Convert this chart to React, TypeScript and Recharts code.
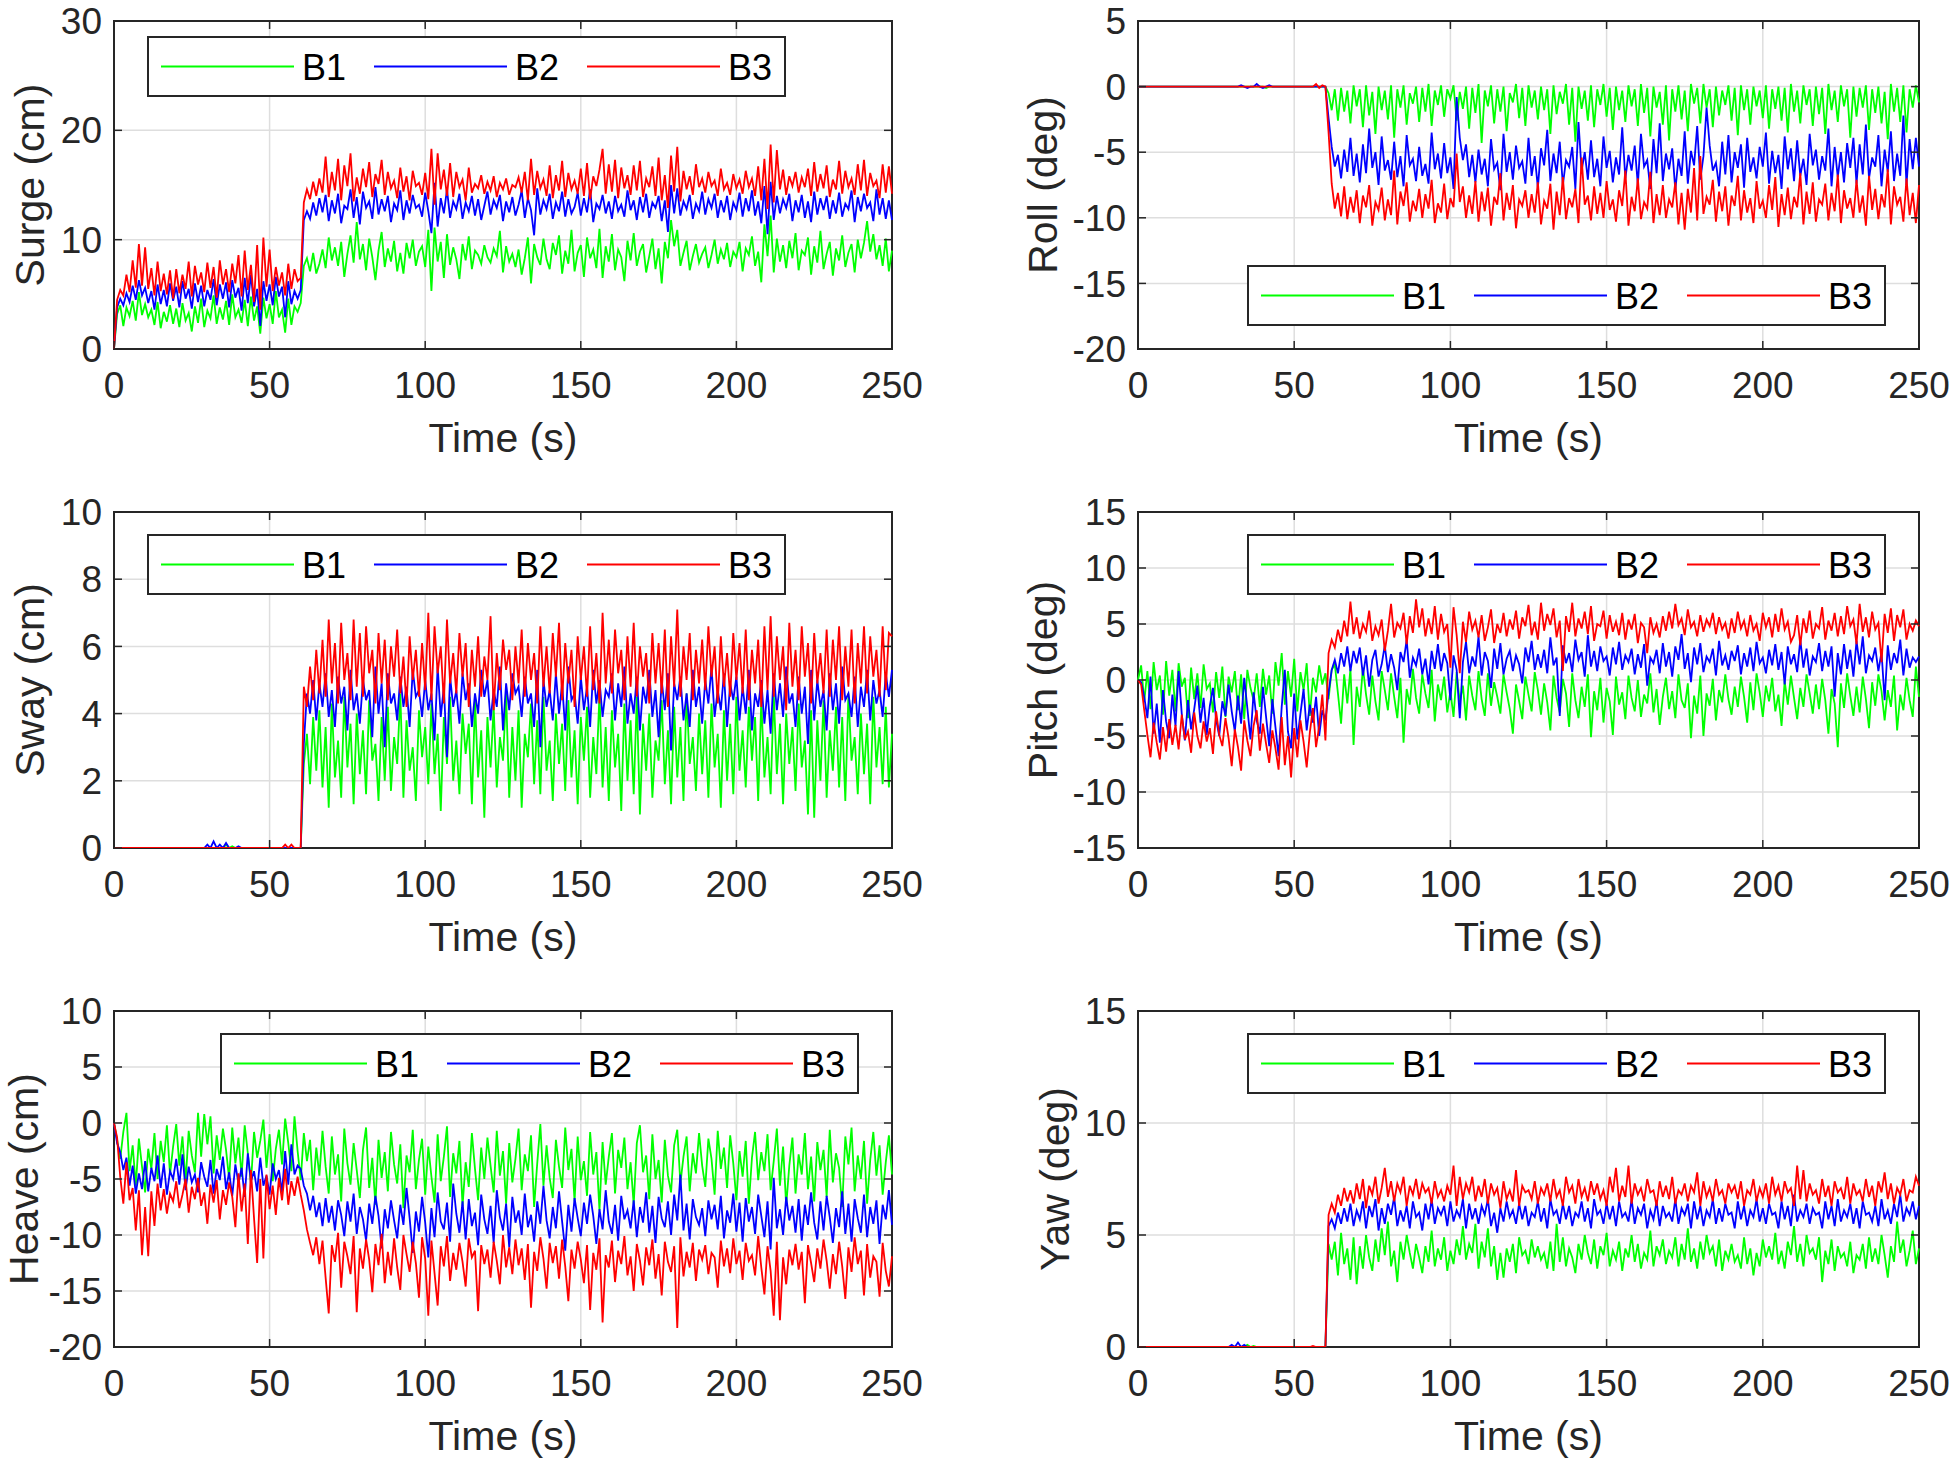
import React from 'react';
import { LineChart, Line, XAxis, YAxis, CartesianGrid, Legend, ReferenceArea } from 'recharts';

// time axis: one sample per second, 0..250 s
const time = Array.from({ length: 251 }, (_, i) => i);
const timeTicks = [0, 50, 100, 150, 200, 250];

const surgeTicks = [0, 10, 20, 30];
const rollTicks = [-20, -15, -10, -5, 0, 5];
const swayTicks = [0, 2, 4, 6, 8, 10];
const pitchTicks = [-15, -10, -5, 0, 5, 10, 15];
const heaveTicks = [-20, -15, -10, -5, 0, 5, 10];
const yawTicks = [0, 5, 10, 15];

const surgeB1 = [
  0, 3.2, 4.0, 2.1, 3.8, 3.0, 4.4, 2.6, 5.2, 3.1,
  4.1, 2.9, 3.6, 2.2, 4.3, 1.9, 3.4, 2.5, 4.0, 2.3,
  3.7, 2.0, 4.2, 2.6, 3.3, 1.6, 3.9, 2.4, 4.6, 2.0,
  3.5, 2.8, 4.9, 2.3, 3.8, 2.7, 4.4, 2.2, 5.0, 2.9,
  3.6, 2.4, 4.5, 2.1, 4.8, 2.6, 3.9, 1.4, 4.7, 2.8,
  4.1, 2.3, 5.3, 2.9, 3.6, 1.5, 4.6, 2.2, 3.9, 3.4,
  4.2, 7.6, 8.3, 7.1, 8.8, 6.9, 7.8, 9.1, 7.4, 10.2,
  8.1, 9.3, 7.6, 9.8, 6.6, 8.7, 10.4, 7.9, 11.6, 8.2,
  9.6, 7.2, 10.1, 8.4, 6.3, 9.0, 10.7, 7.5, 9.2, 8.0,
  9.9, 7.1, 8.8, 6.9, 9.7, 8.3, 10.0, 7.6, 8.9, 9.4,
  7.5, 10.9, 5.3, 11.1, 8.0, 9.8, 6.5, 10.5, 7.7, 9.3,
  8.2, 6.4, 9.6, 8.1, 10.3, 7.3, 9.0, 8.6, 7.8, 9.5,
  8.4, 7.9, 9.2, 8.5, 10.8, 7.0, 9.4, 8.0, 8.7, 7.5,
  9.1, 6.8, 8.3, 10.2, 6.0, 9.6, 8.4, 7.7, 10.1, 8.2,
  7.3, 9.7, 8.6, 10.4, 6.9, 9.0, 7.8, 10.9, 7.1, 8.8,
  9.5, 6.6, 10.2, 8.3, 9.1, 7.4, 11.0, 6.5, 9.4, 8.0,
  10.5, 7.2, 9.1, 8.4, 6.2, 9.9, 8.1, 10.6, 7.6, 8.9,
  9.6, 7.0, 8.5, 10.1, 7.3, 9.2, 6.0, 9.8, 8.3, 11.8,
  9.4, 10.9, 7.6, 8.8, 9.9, 7.2, 8.5, 9.6, 7.9, 8.7,
  9.3, 7.4, 8.6, 10.0, 7.8, 9.1, 8.2, 9.7, 7.5, 8.9,
  8.4, 9.8, 7.1, 9.2, 8.6, 10.3, 7.6, 8.9, 6.1, 11.4,
  8.5, 12.2, 7.0, 10.1, 8.0, 9.5, 7.4, 9.9, 8.3, 10.6,
  7.2, 9.0, 8.6, 10.2, 6.8, 9.4, 7.9, 10.8, 7.3, 8.7,
  9.8, 6.7, 9.2, 8.1, 10.4, 7.5, 8.8, 9.6, 7.0, 10.0,
  8.3, 9.7, 11.7, 8.9, 10.5, 8.2, 9.5, 7.6, 10.1, 7.1,
  9.0,
];
const surgeB2 = [
  0, 3.8, 4.6, 4.0, 5.1, 4.3, 5.8, 4.5, 6.3, 4.9,
  5.6, 4.2, 5.3, 3.6, 5.9, 4.1, 5.4, 3.9, 6.0, 4.4,
  5.7, 3.8, 6.2, 4.6, 5.5, 3.7, 6.0, 4.3, 5.8, 3.9,
  5.4, 4.5, 6.4, 4.0, 5.9, 4.6, 6.1, 3.8, 6.3, 4.7,
  5.6, 3.5, 6.5, 4.2, 6.8, 3.9, 5.5, 2.1, 6.2, 4.4,
  5.9, 4.0, 6.6, 4.8, 5.7, 2.9, 6.2, 4.1, 5.3, 4.6,
  5.4, 11.8, 12.6, 11.9, 13.4, 12.2, 13.8, 12.5, 14.1, 11.7,
  13.6, 12.4, 14.2, 11.5, 13.1, 12.8, 14.6, 12.0, 13.9, 11.4,
  14.4, 12.9, 13.5, 11.9, 14.8, 12.3, 13.7, 12.6, 14.0, 11.6,
  13.3, 12.7, 14.5, 11.8, 13.6, 12.4, 14.1, 12.9, 13.2, 12.1,
  14.3, 12.6, 10.6, 15.2, 11.2, 13.8, 12.4, 14.6, 12.0, 13.5,
  12.8, 14.2, 11.9, 13.4, 12.6, 14.0, 12.2, 13.7, 11.8, 13.1,
  14.4, 12.3, 13.6, 12.9, 14.1, 11.7, 13.5, 12.5, 13.9, 12.2,
  13.2, 14.5, 12.0, 13.8, 12.7, 10.4, 14.7, 12.3, 13.6, 12.8,
  14.2, 11.9, 13.4, 12.6, 14.4, 12.1, 13.7, 12.4, 13.0, 14.3,
  12.2, 13.8, 12.5, 14.6, 11.6, 13.3, 12.8, 14.1, 12.4, 13.5,
  11.9, 14.0, 12.6, 13.2, 12.1, 14.5, 12.7, 13.6, 11.8, 13.9,
  12.5, 14.2, 12.0, 13.4, 12.9, 14.0, 11.7, 13.6, 10.7, 15.0,
  12.4, 14.7, 12.2, 13.5, 12.8, 14.1, 11.9, 13.3, 12.6, 14.4,
  12.3, 13.7, 12.9, 14.2, 12.0, 13.6, 12.5, 14.0, 11.8, 13.4,
  12.7, 14.3, 12.1, 13.8, 12.6, 14.5, 12.2, 13.5, 11.5, 14.9,
  10.5, 15.3, 11.8, 14.0, 12.4, 13.7, 12.9, 14.2, 11.7, 13.6,
  12.5, 14.1, 12.0, 13.5, 11.6, 14.4, 12.3, 13.8, 12.7, 14.0,
  11.9, 13.6, 12.4, 14.3, 12.1, 13.3, 12.8, 14.5, 11.6, 13.9,
  12.6, 14.2, 12.9, 13.4, 11.7, 14.6, 12.3, 13.8, 11.9, 13.6,
  11.8,
];
const surgeB3 = [
  0, 4.5, 5.4, 4.9, 6.8, 5.2, 8.1, 5.6, 9.6, 5.8,
  9.3, 5.5, 7.4, 4.9, 8.0, 5.3, 6.9, 5.0, 7.2, 4.6,
  7.3, 5.1, 6.8, 5.5, 8.0, 4.8, 7.6, 5.9, 7.0, 5.2,
  7.9, 5.6, 7.5, 4.7, 8.1, 5.9, 7.3, 5.2, 7.8, 6.0,
  8.6, 4.8, 9.0, 5.4, 7.7, 4.3, 9.5, 3.6, 10.2, 5.7,
  9.1, 5.3, 7.5, 5.8, 7.0, 4.9, 7.8, 5.5, 7.3, 6.2,
  6.5, 13.4, 14.6, 13.7, 15.3, 14.0, 15.6, 14.3, 17.6, 13.9,
  16.2, 14.5, 17.4, 13.6, 16.8, 14.9, 17.9, 13.5, 15.7, 14.2,
  16.5, 14.8, 17.1, 13.9, 16.0, 15.1, 17.3, 14.1, 16.2, 14.7,
  15.4, 13.8, 16.6, 14.4, 15.8, 13.6, 16.3, 14.9, 15.2, 14.1,
  16.1, 13.7, 18.3, 13.2, 17.9, 14.6, 16.4, 14.0, 17.0, 13.9,
  16.2, 14.8, 15.5, 13.6, 16.6, 14.3, 15.1, 14.7, 15.9, 14.2,
  15.3, 14.5, 15.8, 13.9, 15.2, 14.6, 15.6, 14.1, 15.0, 14.8,
  15.7, 14.3, 16.2, 13.6, 17.4, 14.1, 16.3, 14.7, 15.5, 14.0,
  16.8, 13.8, 15.9, 14.5, 17.2, 13.9, 16.1, 14.6, 15.4, 14.2,
  16.5, 14.0, 17.0, 13.7, 15.8, 14.9, 16.4, 18.3, 14.2, 16.9,
  14.4, 17.3, 13.8, 16.6, 14.7, 15.9, 14.1, 16.8, 14.5, 17.2,
  13.9, 15.6, 14.8, 16.7, 14.0, 17.5, 13.6, 15.9, 12.9, 17.7,
  14.4, 18.5, 13.5, 16.3, 14.6, 15.8, 14.1, 16.9, 14.8, 15.6,
  14.3, 16.2, 14.9, 15.4, 14.0, 16.5, 14.6, 15.2, 14.1, 16.0,
  14.7, 15.5, 14.2, 16.3, 14.8, 15.6, 14.0, 16.7, 13.6, 17.4,
  12.8, 18.7, 13.4, 18.2, 14.6, 16.4, 14.1, 15.8, 14.9, 16.2,
  14.3, 15.7, 14.8, 16.5, 14.0, 17.1, 14.4, 16.0, 14.7, 16.8,
  13.9, 15.5, 14.6, 17.2, 14.2, 16.3, 14.8, 15.6, 14.1, 16.9,
  14.5, 17.3, 14.0, 16.1, 14.9, 15.4, 13.8, 16.9, 14.3, 16.7,
  14.2,
];

const rollB1 = [
  0, 0, 0, 0, 0, 0, 0, 0, 0, 0,
  0, 0, 0, 0, 0, 0, 0, 0, 0, 0,
  0, 0, 0, 0, 0, 0, 0, 0, 0, 0,
  0, 0, 0, 0, 0, 0, 0, 0, 0, 0,
  0, -0.1, 0, 0, 0, 0, 0, 0, 0, 0,
  0, 0, 0, 0, 0, 0, 0, 0, 0, 0,
  0, -0.5, -1.8, -0.2, -2.6, -0.1, -1.9, -0.3, -2.8, 0.1,
  -1.5, -0.2, -3.1, 0.1, -2.2, -0.4, -3.6, 0.0, -1.8, -0.3,
  -2.5, 0.1, -3.9, -0.2, -1.6, 0.1, -2.9, -0.5, -1.3, 0.0,
  -2.7, -0.1, -1.9, 0.2, -3.0, -0.3, -1.4, 0.1, -2.3, -0.2,
  -0.9, 0.1, -2.6, -0.4, -1.7, 0.0, -3.2, -0.1, -2.0, 0.2,
  -4.3, -0.3, -1.5, 0.1, -2.8, -0.2, -1.9, 0.0, -3.4, -0.5,
  -1.2, 0.2, -2.4, -0.1, -3.0, 0.1, -1.6, -0.3, -2.5, 0.0,
  -1.8, -0.2, -3.6, 0.1, -2.1, -0.4, -1.3, 0.2, -2.9, -0.1,
  -4.2, 0.0, -1.7, -0.3, -2.6, 0.1, -3.1, -0.2, -1.4, 0.2,
  -2.3, -0.1, -3.3, 0.0, -1.8, -0.3, -2.7, 0.1, -1.5, -0.2,
  -3.0, 0.2, -2.0, -0.1, -3.8, 0.0, -1.6, -0.4, -2.9, 0.1,
  -4.1, -0.2, -1.9, 0.1, -2.5, -0.3, -3.4, 0.2, -1.3, -0.1,
  -2.8, 0.2, -1.6, -0.2, -3.1, 0.0, -2.2, -0.3, -1.4, 0.1,
  -2.6, -0.1, -3.7, 0.1, -1.8, -0.2, -2.9, 0.0, -1.5, -0.3,
  -2.4, 0.1, -3.2, -0.2, -1.7, 0.0, -2.6, -0.1, -3.5, 0.2,
  -1.9, -0.3, -2.8, 0.1, -1.4, -0.2, -3.0, 0.0, -2.1, -0.1,
  -3.6, 0.2, -1.8, -0.3, -2.7, 0.1, -1.5, -0.2, -3.9, 0.0,
  -2.3, -0.1, -1.6, 0.1, -3.3, -0.2, -2.0, 0.0, -2.8, -0.4,
  -4.0, 0.2, -1.9, -0.1, -2.7, 0.1, -3.5, -0.2, -1.6, 0.1,
  -1.2,
];
const rollB2 = [
  0, 0, 0, 0, 0, 0, 0, 0, 0, 0,
  0, 0, 0, 0, 0, 0, 0, 0, 0, 0,
  0, 0, 0, 0, 0, 0, 0, 0, 0, 0,
  0, 0, 0, 0.1, 0, -0.1, 0, 0, 0.2, 0,
  -0.1, 0, 0.1, 0, 0, 0, 0, 0, 0, 0,
  0, 0, 0, 0, 0, 0, 0, 0, 0, 0,
  0, -2.4, -4.6, -6.1, -5.2, -7.0, -4.8, -6.5, -3.9, -6.8,
  -5.1, -7.3, -4.4, -6.6, -3.2, -6.2, -5.0, -7.5, -3.8, -6.4,
  -5.6, -7.1, -4.2, -6.9, -5.3, -7.6, -3.7, -6.0, -5.5, -7.2,
  -4.6, -6.8, -5.9, -7.4, -3.5, -6.3, -5.1, -7.0, -4.3, -6.6,
  -5.4, -7.8, -0.8, -3.9, -5.6, -4.4, -6.9, -5.2, -7.3, -4.8,
  -6.7, -5.5, -7.6, -4.0, -6.3, -5.8, -7.9, -3.6, -6.5, -5.0,
  -7.1, -4.5, -6.2, -5.7, -7.4, -3.9, -6.8, -5.3, -7.7, -4.7,
  -6.0, -3.3, -7.2, -5.1, -6.6, -4.2, -7.5, -5.6, -6.1, -4.6,
  -7.8, -2.7, -6.4, -5.0, -7.1, -4.1, -6.9, -5.5, -7.6, -3.8,
  -6.2, -4.9, -7.3, -5.4, -6.7, -3.1, -7.0, -5.2, -6.4, -4.5,
  -7.5, -3.6, -6.1, -5.6, -7.8, -4.0, -6.6, -2.8, -7.2, -5.1,
  -6.3, -4.7, -7.9, -5.5, -6.8, -3.4, -7.4, -4.9, -6.0, -3.0,
  -7.1, -5.3, -1.6, -4.5, -6.4, -5.8, -7.6, -4.2, -6.7, -3.7,
  -7.3, -5.0, -6.2, -4.4, -7.7, -3.9, -6.5, -5.4, -7.0, -4.6,
  -6.1, -3.5, -7.4, -4.9, -6.6, -5.2, -7.8, -3.8, -6.3, -4.7,
  -7.2, -4.1, -6.8, -5.5, -7.5, -3.6, -6.0, -4.8, -7.1, -5.3,
  -6.4, -3.2, -7.6, -4.6, -6.9, -5.0, -7.3, -4.3, -6.2, -3.9,
  -7.4, -4.4, -6.7, -2.9, -7.0, -5.4, -6.1, -3.7, -7.6, -4.8,
  -6.5, -3.4, -7.2, -5.1, -6.8, -2.2, -7.5, -4.0, -6.3, -3.9,
  -6.1,
];
const rollB3 = [
  0, 0, 0, 0, 0, 0, 0, 0, 0, 0,
  0, 0, 0, 0, 0, 0, 0, 0, 0, 0,
  0, 0, 0, 0, 0, 0, 0, 0, 0, 0,
  0, 0, 0, 0, 0, 0, 0, 0, 0, 0,
  0, 0, 0, 0, 0, 0, 0, 0, 0, 0,
  0, 0, 0, 0, 0, 0, 0, 0.2, -0.1, 0.1,
  0, -3.5, -7.4, -9.3, -8.1, -9.9, -7.6, -10.1, -8.4, -9.6,
  -7.9, -10.4, -8.3, -9.2, -7.5, -10.6, -8.8, -9.4, -7.7, -10.2,
  -8.6, -9.8, -6.4, -10.5, -8.0, -9.1, -7.3, -10.3, -8.7, -9.5,
  -7.8, -10.0, -8.2, -9.3, -7.1, -10.4, -8.9, -9.6, -7.4, -10.1,
  -8.5, -9.2, -5.1, -8.8, -7.6, -10.0, -8.3, -9.7, -7.2, -10.3,
  -8.0, -9.5, -7.7, -10.6, -8.4, -9.0, -6.6, -10.2, -8.1, -9.4,
  -7.5, -10.8, -8.6, -9.1, -7.9, -10.0, -8.2, -9.6, -7.3, -10.5,
  -8.7, -9.3, -7.4, -10.9, -8.0, -9.8, -6.9, -10.1, -8.5, -9.2,
  -7.8, -10.4, -5.4, -9.0, -8.3, -10.2, -7.6, -9.7, -8.1, -10.0,
  -7.2, -9.4, -8.6, -10.3, -7.9, -9.1, -6.4, -10.6, -8.4, -9.5,
  -7.0, -10.1, -8.8, -9.3, -6.5, -10.4, -8.2, -9.8, -7.5, -10.0,
  -8.6, -9.2, -7.3, -10.5, -8.1, -10.9, -7.8, -9.6, -6.2, -10.2,
  -5.3, -9.7, -8.4, -9.0, -7.1, -10.3, -8.0, -9.5, -7.6, -10.6,
  -8.3, -9.1, -6.8, -10.2, -7.9, -9.6, -8.5, -10.4, -7.2, -9.3,
  -8.7, -10.0, -7.5, -9.4, -6.9, -10.7, -8.2, -9.8, -7.7, -10.1,
  -8.4, -9.2, -6.6, -10.5, -8.0, -9.7, -7.3, -10.3, -8.6, -9.0,
  -7.4, -10.2, -8.1, -9.5, -6.7, -10.4, -7.9, -9.3, -8.5, -10.0,
  -7.1, -9.6, -8.3, -10.6, -6.8, -9.4, -7.8, -10.1, -8.2, -9.2,
  -6.3, -10.5, -7.6, -9.0, -8.4, -10.3, -7.0, -9.8, -8.1, -10.4,
  -7.5,
];

const swayB1 = [
  0, 0, 0, 0, 0, 0, 0, 0, 0, 0,
  0, 0, 0, 0, 0, 0, 0, 0, 0, 0,
  0, 0, 0, 0, 0, 0, 0, 0, 0, 0,
  0, 0, 0, 0, 0, 0, 0.1, 0, 0.05, 0,
  0, 0, 0, 0, 0, 0, 0, 0, 0, 0,
  0, 0, 0, 0, 0, 0, 0, 0, 0, 0,
  0, 2.5, 3.4, 1.9, 3.9, 2.3, 4.1, 1.8, 3.6, 1.2,
  4.3, 2.1, 3.2, 1.5, 4.5, 2.4, 3.7, 1.3, 4.0, 2.2,
  3.5, 1.6, 4.4, 2.6, 3.1, 1.4, 3.9, 2.0, 4.2, 1.7,
  3.3, 2.5, 4.6, 1.5, 3.8, 2.3, 3.0, 1.4, 4.1, 2.7,
  3.6, 1.9, 4.3, 2.2, 3.4, 1.1, 3.9, 2.5, 4.5, 2.0,
  3.2, 1.6, 4.0, 2.8, 3.7, 1.3, 4.4, 2.1, 3.5, 0.9,
  3.9, 2.4, 4.2, 1.8, 3.3, 2.6, 4.6, 1.5, 3.6, 2.0,
  4.1, 1.2, 3.4, 2.7, 4.3, 1.9, 3.8, 1.6, 4.5, 2.3,
  3.2, 1.4, 4.0, 2.5, 3.7, 1.7, 4.4, 2.1, 3.5, 1.3,
  3.9, 2.6, 4.2, 1.5, 3.3, 2.2, 4.6, 1.8, 3.6, 1.4,
  4.1, 2.4, 3.4, 1.1, 4.3, 2.0, 3.8, 1.6, 4.5, 1.0,
  3.7, 2.3, 4.0, 1.5, 3.2, 2.6, 4.4, 1.9, 3.5, 1.3,
  4.2, 2.1, 3.6, 1.4, 4.6, 2.5, 3.3, 1.7, 4.0, 2.2,
  3.8, 1.5, 4.3, 2.4, 3.4, 1.2, 4.1, 2.0, 3.7, 1.6,
  4.5, 2.3, 3.5, 1.8, 4.2, 2.6, 3.9, 1.4, 4.4, 2.1,
  3.3, 1.6, 4.6, 2.2, 3.7, 1.3, 4.0, 2.5, 3.6, 1.7,
  4.3, 2.4, 3.2, 1.0, 4.1, 0.9, 3.8, 2.0, 4.4, 1.5,
  3.5, 2.3, 4.2, 1.8, 3.9, 1.4, 4.6, 2.6, 3.3, 1.6,
  4.0, 2.2, 3.7, 1.3, 4.5, 2.4, 3.6, 1.9, 4.2, 1.8,
  3.4,
];
const swayB2 = [
  0, 0, 0, 0, 0, 0, 0, 0, 0, 0,
  0, 0, 0, 0, 0, 0, 0, 0, 0, 0,
  0, 0, 0, 0, 0, 0, 0, 0, 0, 0,
  0.1, 0, 0.2, 0, 0.1, 0, 0.15, 0, 0, 0,
  0.05, 0, 0, 0, 0, 0, 0, 0, 0, 0,
  0, 0, 0, 0, 0, 0, 0, 0, 0, 0,
  0, 3.1, 4.6, 4.0, 5.0, 3.8, 4.9, 4.2, 5.2, 3.9,
  4.7, 3.6, 5.1, 4.3, 4.8, 3.5, 5.3, 4.1, 4.6, 3.7,
  5.0, 4.4, 4.7, 3.3, 5.4, 4.0, 4.9, 3.0, 5.2, 4.3,
  4.6, 3.8, 5.1, 4.2, 4.8, 3.6, 5.3, 4.5, 4.7, 3.9,
  5.0, 4.1, 4.6, 3.2, 5.4, 3.9, 4.8, 2.7, 5.1, 4.2,
  4.7, 3.7, 5.2, 4.4, 4.9, 3.6, 4.6, 4.0, 5.3, 4.5,
  5.0, 3.8, 4.7, 4.2, 5.4, 3.5, 4.9, 4.1, 5.2, 4.6,
  4.8, 3.9, 5.1, 4.3, 4.6, 3.6, 5.3, 3.0, 5.0, 4.2,
  4.7, 3.8, 5.2, 4.0, 4.9, 3.5, 5.4, 4.4, 4.6, 3.7,
  5.1, 4.1, 4.8, 3.6, 5.3, 4.3, 5.0, 3.9, 4.7, 4.5,
  5.2, 3.8, 4.9, 4.2, 5.4, 3.7, 4.6, 4.0, 5.1, 3.5,
  4.8, 4.3, 5.3, 3.9, 4.7, 3.3, 5.0, 4.1, 5.2, 2.9,
  4.9, 4.4, 5.1, 3.8, 4.6, 3.6, 5.3, 4.2, 4.8, 3.7,
  5.0, 4.3, 5.4, 3.9, 4.7, 4.1, 5.2, 3.6, 4.9, 4.4,
  5.1, 3.8, 4.8, 4.0, 5.3, 3.5, 4.6, 4.2, 5.0, 3.7,
  4.7, 3.4, 5.2, 4.1, 4.9, 3.9, 5.4, 4.3, 4.6, 3.6,
  5.1, 4.0, 4.8, 3.1, 5.3, 3.8, 5.0, 4.2, 4.7, 3.5,
  5.2, 4.1, 4.9, 3.7, 5.4, 4.4, 4.6, 3.9, 5.1, 3.6,
  4.8, 4.2, 5.3, 3.8, 5.0, 4.3, 4.7, 3.9, 5.2, 4.5,
  5.3,
];
const swayB3 = [
  0, 0, 0, 0, 0, 0, 0, 0, 0, 0,
  0, 0, 0, 0, 0, 0, 0, 0, 0, 0,
  0, 0, 0, 0, 0, 0, 0, 0, 0, 0,
  0, 0, 0, 0, 0, 0, 0, 0, 0, 0,
  0, 0, 0, 0, 0, 0, 0, 0, 0, 0,
  0, 0, 0, 0, 0, 0.1, 0, 0.1, 0, 0,
  0, 4.8, 4.2, 5.4, 4.4, 5.9, 4.6, 6.2, 4.5, 6.8,
  4.9, 6.1, 4.3, 6.7, 5.0, 5.8, 4.4, 6.8, 4.8, 6.4,
  4.5, 6.6, 5.2, 5.9, 4.3, 6.4, 4.9, 6.2, 4.4, 6.0,
  5.1, 6.5, 4.6, 5.7, 4.2, 6.3, 5.0, 5.9, 4.5, 6.1,
  4.7, 7.0, 4.4, 6.6, 5.2, 6.0, 4.3, 6.8, 4.9, 5.8,
  4.6, 6.4, 5.1, 6.1, 4.2, 5.9, 4.8, 6.3, 4.5, 5.7,
  5.0, 6.9, 4.1, 5.8, 4.7, 6.2, 5.3, 5.9, 4.4, 6.0,
  4.9, 6.5, 4.5, 6.1, 5.0, 5.8, 4.3, 6.6, 4.8, 6.0,
  4.6, 6.4, 5.1, 6.7, 4.4, 6.1, 4.9, 5.9, 4.2, 6.3,
  5.0, 6.0, 4.5, 6.6, 4.7, 5.8, 4.3, 7.0, 4.9, 6.2,
  4.6, 6.5, 5.2, 5.9, 4.4, 6.3, 4.8, 6.7, 4.5, 6.0,
  5.1, 5.8, 4.3, 6.4, 4.9, 6.1, 4.6, 6.5, 4.2, 6.3,
  4.8, 7.1, 4.5, 6.0, 5.0, 6.4, 4.4, 5.9, 4.9, 6.2,
  4.7, 6.6, 5.1, 6.0, 4.3, 6.3, 4.8, 5.8, 4.5, 6.4,
  5.0, 6.1, 4.6, 6.5, 4.4, 5.9, 4.9, 6.2, 4.2, 6.6,
  4.7, 6.9, 4.5, 6.3, 5.0, 6.0, 4.1, 6.7, 4.8, 5.9,
  4.4, 6.6, 5.1, 6.1, 4.3, 6.4, 4.9, 5.8, 4.6, 6.5,
  4.5, 6.2, 5.0, 6.6, 4.4, 6.0, 4.8, 6.5, 4.3, 6.1,
  4.9, 6.6, 4.6, 6.3, 5.1, 5.9, 4.5, 6.6, 4.7, 6.4,
  6.3,
];

const pitchB1 = [
  0, 1.3, -1.9, 0.8, -2.6, 1.6, -0.9, 0.4, -3.1, 1.7,
  -1.4, 0.9, -2.8, 1.5, -0.6, 0.2, -3.4, 1.1, -1.7, 0.6,
  -2.5, 1.4, -0.8, -0.3, -2.9, 0.7, -1.6, 1.2, -3.3, 0.3,
  -1.1, 0.8, -2.7, 0.5, -3.5, 0.9, -0.7, -1.8, 0.6, -2.4,
  1.0, -1.3, 0.4, -3.0, 1.6, -0.5, 2.4, -2.2, 0.8, -1.5,
  1.9, -2.8, 0.7, -0.9, 1.5, -3.2, 0.2, -1.1, 1.3, -0.4,
  0.6, -1.7, 0.9, 1.4, -1.2, -3.9, 0.5, -2.1, 1.0, -5.8,
  -0.6, -2.4, 1.1, -1.3, -3.1, 0.4, -1.9, -3.6, 0.8, -0.9,
  -2.7, 0.6, -1.5, -3.4, 0.2, -5.6, -0.8, -2.2, 1.0, -1.6,
  -3.0, 0.5, -1.2, -2.5, 0.9, -3.7, -0.4, -1.8, 0.3, -2.9,
  -1.0, -3.3, 0.7, -2.0, -0.5, -3.6, 0.4, -1.4, -2.7, 0.8,
  -1.7, -3.2, 0.6, -2.3, -0.2, -1.5, -3.0, 0.5, -1.1, -2.6,
  -4.8, -0.4, -1.9, -3.5, 0.3, -1.3, -2.8, 0.7, -0.9, -3.1,
  -0.3, -2.0, -4.5, 0.4, -1.6, -2.9, 0.1, -1.2, -4.2, 0.6,
  -1.8, -3.4, -0.6, -2.4, 0.5, -5.1, -1.0, -2.7, 0.2, -3.8,
  -0.7, -1.9, -4.9, 0.3, -2.2, -1.1, -3.5, 0.4, -1.6, -2.8,
  0.0, -3.3, -1.3, -2.1, 0.6, -2.9, -0.8, -4.0, -1.5, 0.2,
  -2.6, -1.0, -3.4, 0.5, -1.8, -2.5, -0.3, -5.2, -1.4, -3.0,
  0.4, -5.0, -1.2, -2.3, 0.1, -3.6, -0.9, -2.0, 0.5, -1.7,
  -3.1, -0.6, -2.4, 0.3, -1.5, -3.8, -0.2, -2.7, 0.6, -1.1,
  -3.3, -0.5, -1.9, 0.2, -2.8, -1.3, -4.1, -0.1, -2.2, 0.4,
  -1.6, -3.5, -0.7, -2.4, 0.5, -1.2, -3.0, -0.4, -2.6, 0.1,
  -1.8, -4.8, -0.8, -2.1, -6.0, -0.3, -2.5, 0.6, -1.4, -3.2,
  -0.6, -2.9, 0.3, -1.7, -4.3, -0.2, -2.3, 0.5, -1.0, -3.6,
  -0.9, -2.4, 0.4, -4.5, -1.3, -2.7, 0.2, -1.8, -3.3, 1.2,
  -1.5,
];
const pitchB2 = [
  0, -0.2, -1.5, -3.4, 0.3, -4.8, -2.1, -5.6, -0.9, -3.7,
  -5.2, -1.3, -4.1, 0.8, -3.0, -5.4, -1.8, -4.4, -2.6, -0.5,
  -3.8, -1.6, -4.9, -2.3, -0.7, -3.5, -5.0, -1.9, -3.2, -0.4,
  -2.8, -4.6, -1.4, -3.9, 0.2, -2.5, -5.3, -1.1, -3.6, -4.8,
  -0.6, -3.3, -5.9, -1.7, -4.2, -6.8, -2.4, 0.9, -4.6, -6.1,
  -1.2, -5.3, -3.0, -0.8, -4.5, -2.2, -3.8, -1.5, -5.0, -2.7,
  -3.6, -1.1, 0.9, 1.8, 0.6, 2.4, 1.2, 3.0, 0.8, 2.6,
  1.5, 2.9, 0.4, 2.2, -0.6, 1.8, 2.7, 0.3, 1.4, 3.1,
  0.7, 2.3, 1.1, -0.9, 2.5, 1.6, 3.6, 0.2, 2.0, 1.3,
  2.8, 0.5, 1.9, -0.4, 2.6, 1.0, 3.2, 0.8, 2.4, 1.5,
  -1.8, 2.2, 0.9, -3.4, 1.6, 3.4, 0.6, 2.1, 1.2, 3.9,
  0.4, 2.5, 1.7, -0.7, 2.8, 1.0, 3.3, 0.5, 1.9, 2.6,
  0.8, 2.2, 1.4, -0.3, 2.9, 1.6, 3.5, 0.9, 2.3, 1.1,
  2.7, 0.6, 3.8, 1.3, 2.0, -3.2, 3.1, 1.5, 2.4, 0.7,
  3.6, 1.8, 2.5, 0.3, 4.0, 1.2, 2.6, 0.8, 3.0, 1.7,
  2.1, 0.4, 2.9, 1.4, 3.4, 0.9, 2.2, 1.6, 2.8, 0.5,
  2.3, 1.1, 3.2, -0.5, 2.0, 1.5, 2.7, 0.6, 3.3, 1.2,
  2.5, 0.3, 3.0, 1.8, 4.1, 1.0, 2.4, -0.2, 2.9, 1.4,
  3.3, 0.7, 2.1, 1.6, 2.8, 0.4, 3.5, 1.3, 2.2, 0.9,
  2.6, 1.7, 3.1, 0.5, 2.4, 1.2, 2.9, 0.8, 3.4, 1.5,
  2.0, 0.6, 2.7, 1.3, 3.2, 0.9, 2.5, -0.4, 3.0, 1.4,
  2.3, 0.7, 3.6, 1.1, 2.8, 0.4, 2.1, 1.6, 3.3, 0.8,
  2.6, 1.2, 3.0, -1.5, 2.4, 0.5, 3.2, 1.0, 2.7, 0.3,
  3.5, 1.4, 3.9, 0.6, 2.2, 1.7, 2.9, 0.8, 2.5, -1.8,
  3.1, 0.9, 2.4, 1.5, 3.6, 0.4, 2.8, 1.1, 2.0, 1.6,
  2.1,
];
const pitchB3 = [
  0, -0.4, -2.7, -4.9, -6.9, -3.8, -5.6, -7.1, -4.2, -6.4,
  -3.5, -5.8, -4.0, -6.2, -3.1, -5.3, -4.6, -6.5, -2.9, -5.0,
  -6.1, -3.7, -5.5, -4.3, -6.6, -2.8, -4.9, -5.9, -3.4, -5.2,
  -7.7, -4.4, -6.0, -8.1, -3.6, -5.4, -6.8, -4.1, -2.7, -6.3,
  -3.9, -5.7, -7.4, -4.5, -6.1, -8.0, -3.3, -7.6, -5.0, -8.7,
  -4.3, -6.9, -3.6, -5.5, -7.8, -4.7, -2.5, -6.0, -4.1, -1.3,
  -5.4, 2.4, 3.6, 2.9, 4.5, 3.4, 5.3, 3.9, 7.0, 4.1,
  5.6, 3.7, 5.0, 4.3, 6.2, 3.5, 4.8, 4.0, 5.4, 2.6,
  4.4, 6.8, 3.8, 5.1, 4.6, 6.0, 3.2, 5.7, 4.2, 7.2,
  4.7, 6.4, 3.9, 5.5, 4.1, 6.6, 3.6, 5.9, 4.3, 5.0,
  1.1, 6.5, 4.0, 0.6, 5.2, 3.4, 6.1, 4.5, 5.3, 3.8,
  5.8, 3.5, 4.7, 6.3, 3.3, 5.0, 4.2, 6.0, 3.9, 5.4,
  4.5, 6.2, 3.7, 5.6, 4.8, 6.7, 4.0, 5.2, 3.6, 6.9,
  4.4, 5.9, 4.9, 6.4, 3.8, 5.3, 0.8, 5.7, 4.3, 6.9,
  3.9, 5.5, 4.6, 6.1, 4.1, 6.6, 3.5, 5.0, 4.8, 6.2,
  3.7, 5.8, 4.3, 5.2, 4.0, 6.0, 3.6, 5.4, 4.5, 5.9,
  3.3, 5.1, 4.7, 2.4, 5.6, 4.2, 5.0, 3.8, 5.7, 4.4,
  6.1, 4.6, 6.8, 4.9, 5.5, 4.0, 6.3, 4.7, 5.2, 3.9,
  5.8, 4.3, 5.4, 4.8, 6.0, 4.1, 5.6, 4.5, 5.1, 3.7,
  5.5, 4.2, 6.1, 4.6, 5.3, 3.9, 5.8, 4.4, 5.0, 3.5,
  6.0, 4.7, 5.6, 3.8, 5.9, 4.3, 6.4, 4.5, 5.2, 3.4,
  4.0, 5.8, 3.1, 5.5, 4.2, 6.2, 3.7, 5.0, 4.6, 6.5,
  3.6, 5.3, 4.4, 6.0, 3.9, 5.7, 4.1, 6.6, 4.8, 5.4,
  3.2, 6.8, 4.3, 5.6, 3.8, 6.1, 4.5, 5.1, 1.6, 5.9,
  4.2, 6.4, 3.5, 5.8, 4.7, 6.3, 3.6, 5.0, 4.4, 5.3,
  4.8,
];

const heaveB1 = [
  0, -1.5, -3.2, -0.8, 0.9, -4.3, -2.0, -5.6, -1.4, -3.9,
  -6.2, -2.3, -4.1, -0.9, -5.0, -1.6, -3.5, -0.2, -4.6, -2.1,
  -0.1, -3.8, -1.2, -5.3, -0.7, -2.9, -4.4, 0.9, -3.0, 0.8,
  -1.9, 0.6, -4.5, -1.1, -3.3, -0.5, -2.4, -5.0, -0.4, -3.6,
  -1.3, -4.8, -0.2, -2.7, -5.4, -0.8, -3.1, -1.6, 0.3, -4.0,
  -1.0, -5.2, -2.3, -0.6, -3.7, 0.4, -1.8, -4.3, 0.6, -2.5,
  -5.1, -0.9, -3.4, -1.5, -6.0, -2.2, -4.7, -0.7, -3.9, -6.3,
  -1.2, -4.6, -2.8, -7.0, -0.5, -3.6, -5.5, -1.8, -4.2, -6.7,
  -2.4, -0.4, -5.8, -3.1, -7.3, -1.5, -4.9, -2.6, -6.1, -0.8,
  -3.7, -5.4, -1.9, -7.6, -2.9, -4.4, -0.6, -5.9, -3.3, -1.4,
  -6.4, -2.1, -4.8, -7.1, -1.0, -5.2, -3.0, -0.3, -6.6, -2.7,
  -4.5, -1.6, -7.4, -3.5, -5.7, -0.9, -4.1, -6.9, -2.2, -5.0,
  -1.3, -3.8, -6.2, -0.7, -4.7, -2.5, -7.2, -1.8, -5.3, -3.2,
  -0.5, -6.0, -2.8, -4.3, -1.1, -7.5, -3.6, -0.1, -5.6, -2.0,
  -4.9, -6.7, -1.5, -3.9, -5.8, -0.4, -4.2, -2.3, -7.0, -1.2,
  -5.1, -3.4, -6.5, -0.8, -4.6, -2.6, -7.8, -1.7, -5.5, -3.0,
  -0.9, -6.3, -2.4, -4.0, -1.3, -5.9, -3.5, -7.3, -1.8, -0.2,
  -4.4, -2.9, -6.8, -1.0, -5.0, -3.3, -7.1, -1.5, -4.7, -6.2,
  -2.0, -0.6, -5.4, -3.0, -1.2, -6.1, -2.7, -4.5, -0.9, -3.8,
  -5.7, -1.4, -3.2, -6.4, -0.7, -4.1, -2.2, -5.8, -1.1, -3.6,
  -6.9, -2.5, -4.8, -1.6, -7.2, -3.1, -0.8, -5.1, -2.6, -4.3,
  -1.0, -6.0, -3.4, -0.5, -5.6, -2.1, -7.4, -3.8, -1.3, -6.3,
  -2.8, -4.6, -0.9, -5.9, -3.0, -7.0, -1.7, -4.2, -2.4, -6.6,
  -0.6, -5.3, -2.7, -4.0, -7.5, -1.2, -3.7, -0.4, -6.1, -2.9,
  -5.0, -1.6, -7.2, -3.3, -0.8, -4.7, -2.0, -6.4, -3.5, -1.1,
  -4.6,
];
const heaveB2 = [
  0, -1.8, -2.6, -4.2, -3.1, -5.6, -3.8, -6.3, -4.5, -5.9,
  -3.4, -6.1, -4.0, -5.2, -2.9, -5.8, -3.6, -6.4, -4.3, -5.0,
  -3.2, -5.5, -2.8, -6.0, -3.9, -5.3, -4.6, -6.2, -3.5, -4.8,
  -5.7, -3.3, -6.3, -4.1, -5.1, -3.0, -5.9, -4.4, -6.5, -3.7,
  -5.4, -4.0, -6.6, -2.7, -5.2, -4.3, -6.1, -3.1, -5.6, -4.7,
  -6.4, -3.6, -5.0, -4.2, -6.2, -2.5, -5.5, -1.9, -4.6, -3.8,
  -4.1, -5.6, -6.3, -7.8, -6.5, -8.4, -7.1, -9.2, -6.7, -8.9,
  -7.4, -9.6, -6.9, -8.2, -10.1, -7.0, -8.8, -6.3, -9.9, -7.5,
  -8.6, -10.5, -7.2, -9.0, -6.5, -8.3, -11.2, -7.7, -9.4, -6.9,
  -8.7, -10.3, -7.3, -9.1, -5.8, -8.5, -11.6, -7.9, -9.7, -6.6,
  -8.9, -12.0, -7.6, -10.2, -6.2, -8.8, -9.5, -7.1, -10.6, -5.4,
  -8.1, -9.8, -7.0, -10.4, -6.8, -9.2, -8.0, -10.9, -6.4, -8.6,
  -9.9, -7.4, -10.7, -6.0, -8.4, -9.6, -7.2, -11.1, -6.6, -8.9,
  -7.8, -10.0, -6.3, -9.3, -8.2, -10.6, -7.0, -9.0, -5.6, -8.7,
  -10.3, -7.5, -9.4, -6.1, -8.8, -11.4, -7.3, -9.7, -6.7, -8.5,
  -10.1, -7.1, -9.0, -6.4, -8.3, -10.8, -7.7, -9.5, -6.0, -8.8,
  -9.9, -7.3, -10.5, -6.5, -8.6, -7.8, -9.4, -6.9, -10.2, -7.5,
  -8.9, -6.2, -9.8, -7.4, -10.7, -6.6, -8.5, -9.3, -7.0, -10.0,
  -6.4, -8.7, -4.6, -9.6, -7.2, -10.4, -6.8, -8.4, -9.1, -7.6,
  -10.1, -6.9, -8.6, -7.3, -9.5, -6.5, -10.3, -7.8, -8.9, -6.3,
  -9.7, -7.1, -10.6, -6.7, -8.8, -7.5, -9.9, -6.4, -8.3, -10.2,
  -7.0, -11.3, -4.9, -9.4, -7.7, -10.0, -6.6, -8.7, -7.4, -9.8,
  -6.8, -10.5, -7.3, -9.1, -6.2, -8.9, -10.4, -7.0, -9.6, -6.5,
  -8.4, -10.7, -7.6, -9.3, -6.1, -9.9, -7.2, -10.6, -6.8, -8.5,
  -9.8, -6.4, -10.2, -7.5, -9.0, -6.9, -10.8, -7.3, -8.6, -6.0,
  -9.1,
];
const heaveB3 = [
  0, -1.3, -4.8, -7.2, -3.5, -6.9, -5.8, -9.6, -6.0, -11.8,
  -7.5, -11.9, -6.1, -9.2, -5.4, -7.8, -5.9, -8.1, -6.3, -7.0,
  -5.2, -7.6, -6.4, -5.0, -8.0, -5.7, -6.8, -4.9, -7.4, -6.2,
  -9.0, -5.5, -7.1, -5.1, -8.6, -6.0, -7.3, -5.3, -6.6, -9.3,
  -4.5, -7.9, -5.4, -10.8, -4.2, -8.5, -12.5, -5.0, -12.1, -4.6,
  -7.7, -5.6, -8.2, -4.9, -6.9, -4.1, -7.3, -5.2, -6.5, -4.8,
  -6.4, -7.8, -9.5, -10.7, -11.8, -10.2, -12.6, -10.5, -13.8, -17.0,
  -10.9, -12.4, -9.8, -14.7, -10.6, -11.9, -13.5, -10.1, -16.9, -11.2,
  -13.0, -10.4, -12.2, -15.1, -10.8, -12.7, -9.9, -14.3, -11.5, -13.6,
  -10.3, -12.9, -14.9, -10.0, -11.7, -13.3, -10.6, -12.5, -15.6, -10.2,
  -12.1, -17.2, -10.5, -13.4, -16.3, -11.0, -12.8, -10.1, -14.1, -11.6,
  -13.1, -10.7, -12.4, -14.6, -10.3, -12.0, -11.4, -16.8, -10.9, -12.6,
  -11.3, -13.8, -10.6, -12.3, -14.4, -10.0, -12.9, -11.1, -13.5, -10.4,
  -12.7, -11.2, -14.0, -10.8, -16.5, -11.5, -13.2, -10.2, -12.1, -14.8,
  -10.7, -12.5, -11.0, -13.9, -10.4, -12.8, -15.9, -11.3, -13.0, -10.6,
  -12.2, -14.3, -10.9, -16.7, -11.6, -13.1, -10.3, -17.8, -11.8, -12.9,
  -10.5, -14.2, -11.4, -12.6, -10.1, -13.6, -11.9, -15.0, -10.8, -12.3,
  -14.5, -11.1, -12.7, -10.4, -13.9, -11.7, -15.4, -10.6, -12.4, -13.3,
  -11.0, -18.3, -10.2, -13.7, -11.5, -12.9, -10.7, -14.1, -11.3, -12.2,
  -10.9, -13.5, -11.6, -12.0, -14.7, -10.5, -12.8, -11.2, -13.4, -10.3,
  -12.6, -11.4, -14.0, -10.7, -12.3, -11.8, -13.6, -10.1, -12.9, -15.3,
  -11.0, -13.2, -17.2, -10.6, -17.6, -12.0, -14.4, -11.3, -12.7, -10.8,
  -13.1, -11.5, -16.1, -10.9, -12.5, -14.2, -11.2, -13.0, -10.4, -12.3,
  -14.8, -11.7, -13.5, -10.6, -12.8, -15.7, -11.1, -13.3, -10.2, -12.6,
  -11.4, -15.4, -10.8, -13.8, -11.9, -12.4, -15.5, -10.7, -13.2, -14.6,
  -11.9,
];

const yawB1 = [
  0, 0, 0, 0, 0, 0, 0, 0, 0, 0,
  0, 0, 0, 0, 0, 0, 0, 0, 0, 0,
  0, 0, 0, 0, 0, 0, 0, 0, 0, 0,
  0, 0, 0, 0, 0, 0.1, 0, 0.05, 0, 0,
  0, 0, 0, 0, 0, 0, 0, 0, 0, 0,
  0, 0, 0, 0, 0, 0, 0, 0, 0, 0,
  0, 4.6, 3.9, 4.7, 3.2, 5.1, 3.7, 4.4, 3.0, 4.9,
  2.8, 4.5, 3.5, 5.0, 4.0, 3.4, 4.8, 3.8, 5.3, 4.1,
  5.6, 3.6, 4.3, 2.9, 4.7, 3.9, 5.0, 4.2, 3.5, 4.6,
  4.0, 3.3, 4.5, 3.8, 5.2, 3.6, 4.4, 3.9, 4.9, 3.4,
  4.3, 3.7, 4.8, 4.1, 5.4, 3.9, 4.6, 4.2, 5.5, 3.5,
  4.7, 4.0, 5.3, 3.6, 4.5, 3.0, 4.2, 3.1, 4.4, 3.8,
  4.6, 3.3, 4.9, 4.1, 4.3, 3.7, 4.8, 4.0, 4.5, 3.9,
  4.2, 3.5, 4.7, 3.4, 5.5, 3.8, 4.9, 3.6, 4.4, 4.0,
  3.3, 4.6, 3.9, 5.0, 4.2, 3.7, 4.8, 3.5, 4.5, 4.1,
  5.1, 3.6, 4.3, 3.9, 4.7, 3.4, 4.4, 4.0, 5.0, 3.8,
  4.6, 3.5, 4.2, 3.9, 5.2, 3.6, 4.5, 4.1, 4.8, 3.7,
  4.3, 4.0, 4.9, 3.6, 4.6, 3.9, 5.3, 3.8, 4.4, 3.5,
  4.7, 3.9, 5.0, 4.2, 4.5, 3.6, 4.8, 3.4, 4.3, 3.9,
  4.6, 3.8, 4.1, 3.5, 4.9, 3.7, 4.4, 3.2, 4.2, 3.6,
  4.8, 4.0, 4.5, 3.9, 5.1, 3.7, 4.3, 3.5, 4.7, 4.1,
  5.4, 3.8, 4.6, 3.6, 5.0, 4.2, 4.4, 3.9, 4.9, 2.9,
  4.3, 3.7, 4.8, 3.4, 4.5, 4.0, 4.2, 3.6, 4.7, 3.3,
  4.1, 3.9, 4.6, 3.5, 4.9, 3.8, 4.4, 3.7, 5.0, 4.1,
  3.1, 4.5, 3.8, 5.6, 4.2, 4.8, 3.6, 4.3, 5.2, 3.7,
  4.4,
];
const yawB2 = [
  0, 0, 0, 0, 0, 0, 0, 0, 0, 0,
  0, 0, 0, 0, 0, 0, 0, 0, 0, 0,
  0, 0, 0, 0, 0, 0, 0, 0, 0, 0,
  0.1, 0, 0.2, 0, 0.1, 0, 0, 0, 0, 0,
  0, 0, 0, 0, 0, 0, 0, 0, 0, 0,
  0, 0, 0, 0, 0, 0, 0, 0, 0, 0,
  0, 5.4, 5.7, 5.3, 6.0, 5.5, 6.2, 5.6, 6.4, 5.4,
  6.1, 5.7, 6.5, 5.3, 6.3, 5.8, 6.6, 5.2, 6.2, 5.5,
  6.4, 5.9, 6.7, 5.4, 6.1, 5.6, 6.3, 5.3, 6.5, 5.8,
  6.0, 5.2, 6.4, 5.7, 6.6, 5.5, 6.2, 5.9, 6.3, 5.4,
  6.5, 5.6, 6.1, 5.8, 6.6, 5.3, 6.4, 5.7, 6.2, 5.5,
  6.3, 5.9, 6.6, 5.4, 6.0, 5.1, 6.2, 5.6, 6.5, 5.8,
  6.1, 5.5, 6.4, 5.7, 6.3, 5.4, 6.0, 5.8, 6.5, 5.6,
  6.2, 5.3, 6.6, 5.9, 6.1, 5.5, 6.4, 5.7, 6.3, 5.4,
  6.0, 5.8, 6.5, 5.6, 6.2, 5.3, 6.6, 5.9, 6.1, 5.5,
  6.4, 5.7, 6.3, 5.4, 6.5, 5.8, 6.0, 5.6, 6.6, 5.5,
  6.2, 5.9, 6.4, 5.3, 6.1, 5.7, 6.5, 5.4, 6.3, 5.8,
  6.0, 5.6, 6.6, 5.5, 6.2, 5.9, 6.4, 5.3, 6.5, 5.7,
  6.3, 5.4, 6.1, 5.8, 6.6, 5.5, 6.2, 5.6, 6.4, 5.9,
  6.0, 5.3, 6.5, 5.7, 6.3, 5.4, 6.1, 5.8, 6.6, 5.6,
  6.2, 5.5, 6.4, 5.9, 6.0, 5.3, 6.5, 5.7, 6.3, 5.4,
  6.8, 5.6, 6.1, 5.8, 6.4, 5.5, 6.2, 5.9, 6.0, 5.3,
  6.5, 5.7, 6.3, 5.4, 6.6, 5.6, 6.1, 5.8, 6.4, 5.5,
  6.2, 5.3, 6.5, 5.9, 6.0, 5.6, 6.3, 5.4, 6.6, 5.7,
  6.1, 5.5, 6.4, 5.8, 6.8, 5.6, 6.2, 5.9, 6.5, 5.7,
  6.3,
];
const yawB3 = [
  0, 0, 0, 0, 0, 0, 0, 0, 0, 0,
  0, 0, 0, 0, 0, 0, 0, 0, 0, 0,
  0, 0, 0, 0, 0, 0, 0, 0, 0, 0,
  0, 0, 0, 0, 0, 0, 0, 0, 0, 0,
  0, 0, 0, 0, 0, 0, 0, 0, 0, 0,
  0, 0, 0, 0, 0, 0, 0.05, 0, 0, 0,
  0, 5.9, 6.4, 6.0, 6.8, 6.3, 7.1, 6.5, 7.0, 6.4,
  7.3, 6.6, 7.5, 6.2, 7.2, 6.8, 7.6, 6.4, 7.1, 8.0,
  6.7, 7.4, 6.5, 7.3, 6.9, 7.6, 6.3, 7.2, 6.8, 7.5,
  6.6, 7.3, 6.9, 7.1, 6.4, 7.4, 6.7, 7.0, 6.5, 7.2,
  6.8, 8.1, 6.3, 7.6, 6.6, 7.3, 6.9, 7.6, 6.5, 7.2,
  6.7, 7.5, 6.4, 7.3, 6.8, 7.1, 6.2, 7.4, 6.6, 7.0,
  6.5, 7.9, 6.3, 7.2, 6.9, 7.0, 6.6, 7.4, 6.4, 7.1,
  6.8, 7.3, 6.5, 7.5, 6.7, 7.0, 6.3, 7.6, 6.9, 7.2,
  6.4, 7.5, 6.7, 7.1, 6.5, 7.4, 6.8, 7.3, 6.6, 7.0,
  6.3, 7.6, 6.9, 8.0, 6.5, 7.2, 6.7, 8.1, 6.4, 7.3,
  6.8, 7.1, 6.5, 7.5, 6.9, 7.0, 6.3, 7.4, 6.7, 7.2,
  6.6, 7.6, 6.4, 7.0, 6.8, 7.3, 6.5, 7.2, 6.9, 7.8,
  6.3, 7.4, 6.7, 7.1, 6.5, 7.5, 6.8, 7.0, 6.4, 7.3,
  6.9, 7.2, 6.6, 7.4, 6.3, 7.0, 6.8, 7.5, 6.5, 7.1,
  6.7, 7.3, 6.4, 7.6, 6.8, 7.2, 6.5, 7.4, 6.9, 7.1,
  6.3, 8.1, 6.6, 7.9, 6.5, 7.3, 6.8, 7.0, 6.4, 7.5,
  6.7, 7.2, 6.3, 7.4, 6.9, 7.1, 6.6, 7.6, 6.4, 7.3,
  6.8, 7.0, 6.5, 7.5, 6.7, 7.2, 6.3, 7.4, 6.9, 7.8,
  6.6, 7.3, 6.4, 7.1, 6.8, 7.5, 6.5, 7.0, 6.9, 7.6,
  7.2,
];

const seriesNames = ['B1', 'B2', 'B3'];
const seriesColors = ['#00ff00', '#0000ff', '#ff0000'];

const FONT = 'Arial, "Liberation Sans", Helvetica, sans-serif';
const INK = '#262626';
const TICK_LEN = 8;
const M_TOP = 20;
const M_RIGHT = 38;
const X_TICK_GAP = 23;
const Y_TICK_GAP = 12;

const panels = [
  { label: 'Surge (cm)', series: [surgeB1, surgeB2, surgeB3], ticks: surgeTicks, col: 0, row: 0, legendLeft: 147, legendTop: 35, labelGap: 85 },
  { label: 'Roll (deg)', series: [rollB1, rollB2, rollB3], ticks: rollTicks, col: 1, row: 0, legendLeft: 247, legendTop: 264, labelGap: 96 },
  { label: 'Sway (cm)', series: [swayB1, swayB2, swayB3], ticks: swayTicks, col: 0, row: 1, legendLeft: 147, legendTop: 42, labelGap: 85 },
  { label: 'Pitch (deg)', series: [pitchB1, pitchB2, pitchB3], ticks: pitchTicks, col: 1, row: 1, legendLeft: 247, legendTop: 42, labelGap: 96 },
  { label: 'Heave (cm)', series: [heaveB1, heaveB2, heaveB3], ticks: heaveTicks, col: 0, row: 2, legendLeft: 220, legendTop: 42, labelGap: 91 },
  { label: 'Yaw (deg)', series: [yawB1, yawB2, yawB3], ticks: yawTicks, col: 1, row: 2, legendLeft: 247, legendTop: 42, labelGap: 84 },
];

const colLeft = [0, 1000];
const colAxisW = [114, 138];
const colWidth = [930, 957];
const rowPlotTop = [21, 512, 1011];
const rowPlotH = [328, 336, 336];

const LegendBox = (props: any) => {
  const items = props.payload || [];
  return (
    <svg width={639} height={61} style={{ display: 'block' }}>
      <rect x={1} y={1} width={637} height={59} fill="#fff" stroke={INK} strokeWidth={2} />
      {items.map((it: any, i: number) => {
        const x0 = 14 + i * 213;
        return (
          <g key={it.value}>
            <line x1={x0} x2={x0 + 133} y1={30.5} y2={30.5} stroke={it.color} strokeWidth={2} />
            <text x={x0 + 141} y={43.5} fontSize={36} fontFamily={FONT} fill="#000">
              {it.value}
            </text>
          </g>
        );
      })}
    </svg>
  );
};

const Panel = ({ p }: { p: (typeof panels)[number] }) => {
  const width = colWidth[p.col];
  const axisW = colAxisW[p.col];
  const plotH = rowPlotH[p.row];
  const plotRight = width - M_RIGHT;
  const plotW = plotRight - axisW;
  const data = time.map((t, i) => ({ t, b1: p.series[0][i], b2: p.series[1][i], b3: p.series[2][i] }));
  const lo = p.ticks[0];
  const hi = p.ticks[p.ticks.length - 1];

  const XTick = (props: any) => {
    const { x, y, payload } = props;
    const axisY = y - X_TICK_GAP;
    return (
      <g>
        <line x1={x} x2={x} y1={axisY} y2={axisY - TICK_LEN} stroke={INK} strokeWidth={1.5} />
        <line x1={x} x2={x} y1={M_TOP} y2={M_TOP + TICK_LEN} stroke={INK} strokeWidth={1.5} />
        <text x={x} y={y} dy="0.71em" textAnchor="middle" fontSize={37} fontFamily={FONT} fill={INK}>
          {payload.value}
        </text>
      </g>
    );
  };

  const YTick = (props: any) => {
    const { x, y, payload } = props;
    const axisX = x + Y_TICK_GAP;
    return (
      <g>
        <line x1={axisX} x2={axisX + TICK_LEN} y1={y} y2={y} stroke={INK} strokeWidth={1.5} />
        <line x1={plotRight} x2={plotRight - TICK_LEN} y1={y} y2={y} stroke={INK} strokeWidth={1.5} />
        <text x={x} y={y} dy="0.355em" textAnchor="end" fontSize={37} fontFamily={FONT} fill={INK}>
          {payload.value}
        </text>
      </g>
    );
  };

  const yLabel = () => (
    <text
      transform={`translate(${axisW - p.labelGap},${M_TOP + plotH / 2}) rotate(-90)`}
      textAnchor="middle"
      dy="0.355em"
      fontSize={41}
      fontFamily={FONT}
      fill={INK}
    >
      {p.label}
    </text>
  );

  const xLabel = () => (
    <text x={axisW + plotW / 2} y={M_TOP + plotH + 103} textAnchor="middle" fontSize={41} fontFamily={FONT} fill={INK}>
      Time (s)
    </text>
  );

  return (
    <div style={{ position: 'absolute', left: colLeft[p.col], top: rowPlotTop[p.row] - M_TOP }}>
      <LineChart width={width} height={M_TOP + plotH + 108 + 14} data={data} margin={{ top: M_TOP, right: M_RIGHT, bottom: 14, left: 0 }}>
        <CartesianGrid stroke="#dedede" strokeWidth={1.5} />
        <XAxis
          dataKey="t"
          type="number"
          domain={[0, 250]}
          ticks={timeTicks}
          interval={0}
          height={108}
          tickSize={0}
          tickMargin={X_TICK_GAP}
          tickLine={false}
          axisLine={false}
          tick={XTick}
          label={xLabel}
        />
        <YAxis
          type="number"
          domain={[lo, hi]}
          ticks={p.ticks}
          interval={0}
          allowDataOverflow
          width={axisW}
          tickSize={0}
          tickMargin={Y_TICK_GAP}
          tickLine={false}
          axisLine={false}
          tick={YTick}
          label={yLabel}
        />
        {['b1', 'b2', 'b3'].map((k, i) => (
          <Line
            key={k}
            type="linear"
            dataKey={k}
            name={seriesNames[i]}
            stroke={seriesColors[i]}
            strokeWidth={1.8}
            dot={false}
            activeDot={false}
            isAnimationActive={false}
          />
        ))}
        <ReferenceArea x1={0} x2={250} y1={lo} y2={hi} fill="none" stroke={INK} strokeWidth={2} />
        <Legend
          content={LegendBox}
          layout="horizontal"
          verticalAlign="middle"
          align="center"
          wrapperStyle={{ left: p.legendLeft, top: p.legendTop, width: 639, height: 61 }}
        />
      </LineChart>
    </div>
  );
}

export default function App() {
  return (
    <div style={{ position: 'absolute', left: 0, top: 0, width: 1949, height: 1459, overflow: 'hidden', background: '#fff' }}>
      {panels.map((p) => (
        <Panel key={p.label} p={p} />
      ))}
    </div>
  );
}
